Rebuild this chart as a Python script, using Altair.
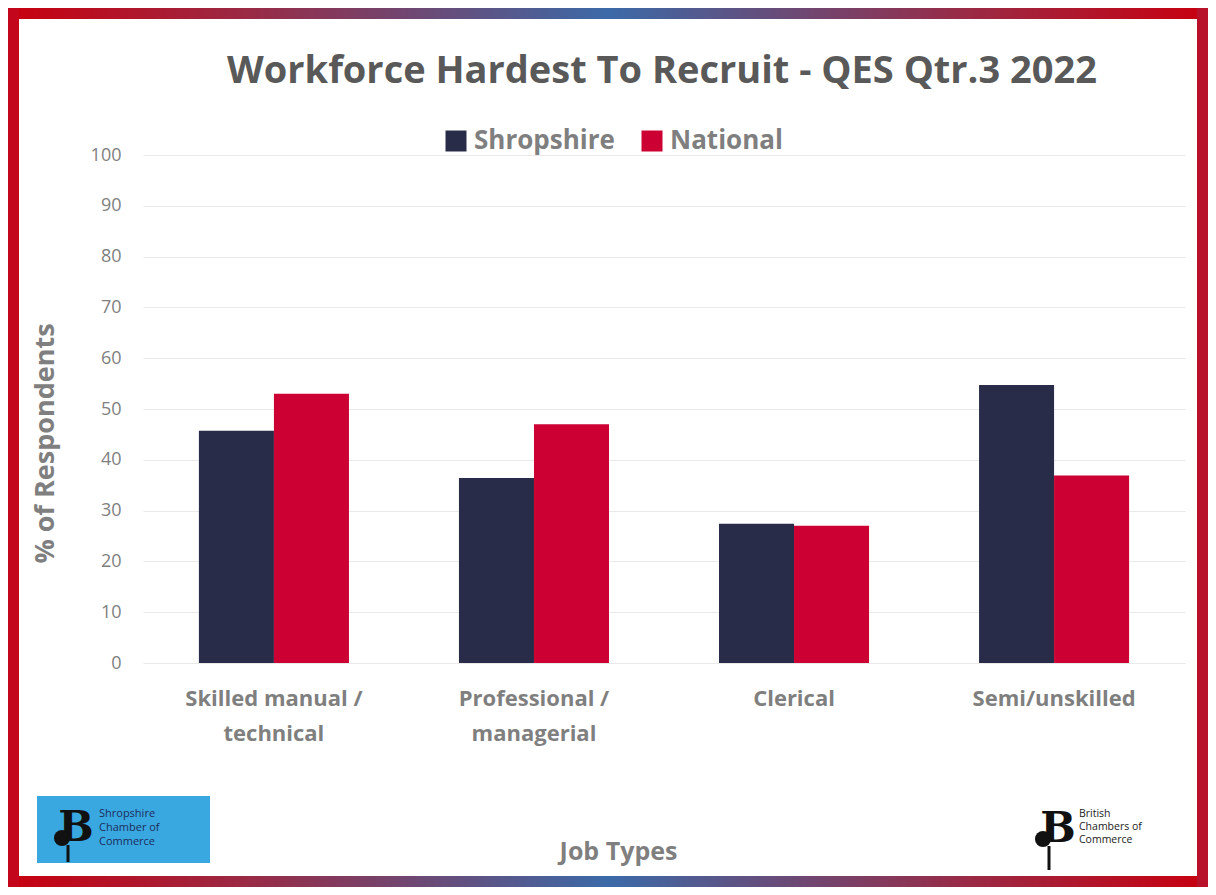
import altair as alt
import pandas as pd

categories = ["Skilled manual / technical", "Professional / managerial", "Clerical", "Semi/unskilled"]
series = ["Shropshire", "National"]
shropshire = [45.7, 36.4, 27.4, 54.7]
national = [53.0, 47.0, 27.0, 36.9]
y_ticks = [0, 10, 20, 30, 40, 50, 60, 70, 80, 90, 100]
colors = ["#282c48", "#cc0033"]

rows = []
for i, c in enumerate(categories):
    rows.append({"category": c, "series": "Shropshire", "value": shropshire[i]})
    rows.append({"category": c, "series": "National", "value": national[i]})
df = pd.DataFrame(rows)

FONT = "Open Sans"
W, H = 1042, 508
PL, PT = 135, 147
CW, CH = 1200, 879
GREY = "#7f7f7f"

label_expr = ("indexof(datum.label, ' / ') >= 0 ? "
              "[substring(datum.label, 0, indexof(datum.label, ' / ') + 2), "
              "substring(datum.label, indexof(datum.label, ' / ') + 3)] : datum.label")

bars = alt.Chart(df).mark_bar().encode(
    x=alt.X("category:N", sort=categories,
            scale=alt.Scale(paddingInner=0.423, paddingOuter=0.215),
            axis=alt.Axis(title="Job Types", labelAngle=0, labelExpr=label_expr,
                          labelFont=FONT, labelFontSize=22, labelFontWeight="bold",
                          labelColor=GREY, labelPadding=25, labelLineHeight=35,
                          domain=False, ticks=False, grid=False,
                          titleFont=FONT, titleFontSize=25, titleFontWeight="bold",
                          titleColor=GREY, titleX=475, titleY=188,
                          titleBaseline="middle")),
    xOffset=alt.XOffset("series:N", sort=series),
    y=alt.Y("value:Q", scale=alt.Scale(domain=[0, 100], nice=False),
            axis=alt.Axis(title="% of Respondents", values=y_ticks,
                          labelFont=FONT, labelFontSize=18, labelColor=GREY,
                          labelPadding=22, domain=False, ticks=False,
                          gridColor="#e9e9e9", gridWidth=1.2,
                          titleFont=FONT, titleFontSize=27, titleFontWeight="bold",
                          titleColor=GREY, titleX=-98, titleY=288,
                          titleBaseline="middle", titleAngle=-90)),
    color=alt.Color("series:N", sort=series,
                    scale=alt.Scale(domain=series, range=colors),
                    legend=alt.Legend(title=None, orient="none", direction="horizontal",
                                      legendX=300, legendY=-27,
                                      symbolType="square", symbolSize=441,
                                      symbolStrokeWidth=0, symbolOpacity=1,
                                      labelFont=FONT, labelFontSize=26,
                                      labelFontWeight="bold", labelColor=GREY,
                                      labelOffset=5, columnPadding=24,
                                      labelLimit=300)),
)

one = alt.Data(values=[{"k": 1}])

grad_h = alt.LinearGradient(
    gradient="linear", x1=0, x2=1, y1=0, y2=0,
    stops=[alt.GradientStop(offset=0, color="#c8000f"),
           alt.GradientStop(offset=0.2, color="#9a2a45"),
           alt.GradientStop(offset=0.5, color="#3b6aa8"),
           alt.GradientStop(offset=0.8, color="#9a2a45"),
           alt.GradientStop(offset=1, color="#c8000f")])
T = 11
x0, x1 = -PL, CW - PL
y0, y1 = -PT, CH - PT
frame_top = alt.Chart(one).mark_rect(color=grad_h).encode(
    x=alt.value(x0), x2=alt.value(x1), y=alt.value(y0), y2=alt.value(y0 + T))
frame_bot = alt.Chart(one).mark_rect(color=grad_h).encode(
    x=alt.value(x0), x2=alt.value(x1), y=alt.value(y1 - T), y2=alt.value(y1))
frame_l = alt.Chart(one).mark_rect(color="#c4061c").encode(
    x=alt.value(x0), x2=alt.value(x0 + T), y=alt.value(y0), y2=alt.value(y1))
frame_r = alt.Chart(one).mark_rect(color="#b8122a").encode(
    x=alt.value(x1 - T), x2=alt.value(x1), y=alt.value(y0), y2=alt.value(y1))

title = alt.Chart(one).mark_text(
    text="Workforce Hardest To Recruit - QES Qtr.3 2022", font=FONT, fontSize=38,
    fontWeight="bold", color="#595959", align="center", baseline="middle").encode(
    x=alt.value(519), y=alt.value(-83))

# Shropshire Chamber logo (page coords minus plot origin 143,155)
shrop_box = alt.Chart(one).mark_rect(color="#3aa8e0").encode(
    x=alt.value(37 - 143), x2=alt.value(210 - 143),
    y=alt.value(796 - 155), y2=alt.value(863 - 155))
shrop_b = alt.Chart(one).mark_text(
    text="B", font="DejaVu Serif", fontSize=42, fontWeight="bold", color="#111111",
    align="center", baseline="middle").encode(
    x=alt.value(76 - 143), y=alt.value(828 - 155))
shrop_leaf = alt.Chart(one).mark_point(
    shape="circle", filled=True, size=260, color="#111111", opacity=1).encode(
    x=alt.value(62 - 143), y=alt.value(838 - 155))
shrop_stem = alt.Chart(one).mark_rule(color="#111111", strokeWidth=3).encode(
    x=alt.value(68 - 143), y=alt.value(845 - 155), y2=alt.value(862 - 155))
shrop_txt = alt.Chart(one).mark_text(
    text=["Shropshire", "Chamber of", "Commerce"], font=FONT, fontSize=11,
    lineHeight=14, color="#1b2d5c", align="left", baseline="top").encode(
    x=alt.value(99 - 143), y=alt.value(808 - 155))

# British Chambers logo
bcc_b = alt.Chart(one).mark_text(
    text="B", font="DejaVu Serif", fontSize=42, fontWeight="bold", color="#111111",
    align="center", baseline="middle").encode(
    x=alt.value(1058 - 143), y=alt.value(829 - 155))
bcc_leaf = alt.Chart(one).mark_point(
    shape="circle", filled=True, size=260, color="#111111", opacity=1).encode(
    x=alt.value(1043 - 143), y=alt.value(839 - 155))
bcc_stem = alt.Chart(one).mark_rule(color="#111111", strokeWidth=3).encode(
    x=alt.value(1049 - 143), y=alt.value(846 - 155), y2=alt.value(870 - 155))
bcc_txt = alt.Chart(one).mark_text(
    text=["British", "Chambers of", "Commerce"], font=FONT, fontSize=10.5,
    lineHeight=13, color="#222222", align="left", baseline="top").encode(
    x=alt.value(1079 - 143), y=alt.value(809 - 155))

chart = alt.layer(
    bars, frame_top, frame_bot, frame_l, frame_r, title,
    shrop_box, shrop_b, shrop_leaf, shrop_stem, shrop_txt,
    bcc_b, bcc_leaf, bcc_stem, bcc_txt
).properties(
    width=W, height=H,
    padding={"left": PL, "top": PT, "right": CW - PL - W, "bottom": CH - PT - H},
    autosize=alt.AutoSizeParams(type="none"),
    background="white",
).configure_view(stroke=None)

chart.save("out.html", embed_options={"renderer": "svg", "actions": False})
